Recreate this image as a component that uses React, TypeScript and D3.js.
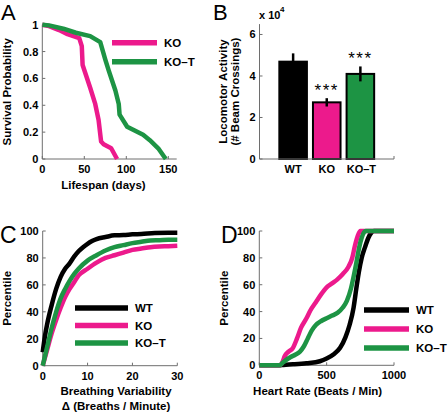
import React from "react";
import * as d3 from "d3";

// ---------- Panel A: survival ----------
const koDays = [0, 8, 20, 30, 44, 47, 48, 57, 63, 67, 70, 73, 82, 89];
const koSurv = [1, 0.99, 0.96, 0.93, 0.9, 0.84, 0.7, 0.53, 0.41, 0.29, 0.13, 0.11, 0.08, 0];
const kotDays = [0, 8, 25, 40, 57, 69, 75, 79, 87, 91, 92, 101, 120, 128, 138, 147];
const kotSurv = [1, 0.995, 0.97, 0.94, 0.915, 0.87, 0.74, 0.66, 0.51, 0.41, 0.33, 0.24, 0.18, 0.14, 0.08, 0];
const aXTicks = [0, 50, 100, 150];
const aYTicks = [0, 0.2, 0.4, 0.6, 0.8, 1];
const aYTickLabels = ["0", "0.2", "0.4", "0.6", "0.8", "1"];

// ---------- Panel B: locomotor activity (x 10^4) ----------
const bGroups = ["WT", "KO", "KO\u2013T"];
const bMeans = [4.69, 2.73, 4.1];
const bErrs = [0.4, 0.2, 0.36];
const bSig = ["", "***", "***"];
const bYTicks = [0, 2, 4, 6];

// ---------- Panel C: breathing variability ----------
const cWtX = [0, 0.5, 1, 2, 3, 4, 5, 6, 7, 8, 9, 10, 11, 12, 14, 16, 18, 20, 22, 25, 28, 30];
const cWtY = [10, 22, 31, 45, 57, 66, 72, 76, 81, 85, 88, 90.5, 92.5, 94, 95.5, 96.8, 97, 97.5, 97.8, 98.5, 98.7, 98.7];
const cKoX = [0, 1, 2, 3, 4, 5, 6, 7, 8, 10, 12, 14, 16, 18, 20, 22, 24, 26, 28, 30];
const cKoY = [0, 12, 24, 34, 43, 51, 57, 62, 67, 72, 76.5, 80, 82, 84, 86, 87, 88, 88.5, 88.7, 89];
const cKotX = [0, 1, 2, 3, 4, 5, 6, 7, 8, 10, 12, 14, 16, 18, 20, 22, 24, 26, 28, 30];
const cKotY = [0, 14, 28, 40, 50, 57, 63, 68, 72, 78, 82, 85.5, 88, 89.5, 91, 92, 93, 93.2, 93.5, 93.5];
const cXTicks = [0, 10, 20, 30];
const pctTicks = [0, 20, 40, 60, 80, 100];

// ---------- Panel D: heart rate ----------
const dWtX = [0, 150, 180, 250, 350, 450, 500, 550, 600, 640, 670, 700, 720, 740, 760, 785, 810, 830, 850, 1000];
const dWtY = [0, 0, 0.3, 0.7, 1.5, 3, 5, 8, 13, 21, 30, 43, 57, 70, 80, 88, 95, 98.5, 100, 100];
const dKoX = [0, 150, 170, 190, 215, 250, 280, 310, 350, 380, 420, 460, 500, 540, 580, 620, 660, 690, 710, 730, 750, 1000];
const dKoY = [0, 0, 2, 7, 10, 13, 20, 28, 35, 41, 47, 53, 58, 61, 64, 68, 73, 80, 89, 96, 100, 100];
const dKotX = [0, 150, 175, 200, 230, 270, 300, 330, 360, 390, 420, 460, 500, 540, 580, 620, 650, 680, 700, 720, 740, 760, 790, 1000];
const dKotY = [0, 0, 2, 4, 6, 8, 10, 14, 20, 26, 30, 33, 35, 37, 39, 43, 48, 57, 66, 76, 87, 95, 100, 100];
const dXTicks = [0, 500, 1000];

const legendNames3 = ["WT", "KO", "KO\u2013T"];

const BLACK = "#000000";
const PINK = "#ec1a8c";
const GREEN = "#1d9444";
const AXIS = "#6e6e6e";
const FONT = "'Liberation Sans', Arial, Helvetica, sans-serif";

type Pt = [number, number];
const zip = (xs: number[], ys: number[]): Pt[] => xs.map((x, i) => [x, ys[i]]);

function Axes({ x, y, xTicks, yTicks, yLabels, xLabels }: any) {
  const [x0, x1] = x.range();
  const [y0, y1] = y.range();
  return (
    <g>
      <line x1={x0} x2={x1} y1={y0} y2={y0} stroke={AXIS} strokeWidth={1} />
      <line x1={x0} x2={x0} y1={y0} y2={y1} stroke={AXIS} strokeWidth={1} />
      {xTicks.map((t: number, i: number) => (
        <g key={"xt" + i}>
          <line x1={x(t)} x2={x(t)} y1={y0} y2={y0 - 3} stroke={AXIS} />
          <text x={x(t)} y={y0 + 14} textAnchor="middle" fontSize={11} fontWeight="bold">
            {xLabels ? xLabels[i] : String(t)}
          </text>
        </g>
      ))}
      {yTicks.map((t: number, i: number) => (
        <g key={"yt" + i}>
          <line x1={x0} x2={x0 + 3} y1={y(t)} y2={y(t)} stroke={AXIS} />
          <text x={x0 - 4} y={y(t) + 4} textAnchor="end" fontSize={11} fontWeight="bold">
            {yLabels ? yLabels[i] : String(t)}
          </text>
        </g>
      ))}
    </g>
  );
}

function Legend({ x1, x2, ys, colors, names }: any) {
  return (
    <g>
      {names.map((n: string, i: number) => (
        <g key={n}>
          <line x1={x1} x2={x2} y1={ys[i]} y2={ys[i]} stroke={colors[i]} strokeWidth={5.5} />
          <text x={x2 + 7} y={ys[i] + 4} fontSize={11.5} fontWeight="bold">{n}</text>
        </g>
      ))}
    </g>
  );
}

export default function App() {
  // Panel A
  const ax = d3.scaleLinear().domain([0, 160]).range([42.3, 176.7]);
  const ay = d3.scaleLinear().domain([0, 1]).range([159, 24.7]);
  const aLine = d3.line<Pt>().x((d) => ax(d[0])).y((d) => ay(d[1]));

  // Panel B
  const bx = d3.scaleLinear().domain([0, 4]).range([259.5, 394]);
  const by = d3.scaleLinear().domain([0, 6.5]).range([159, 24.1]);
  const bw = (bx(0.82) - bx(0));

  // Panel C
  const cx = d3.scaleLinear().domain([0, 30]).range([42.7, 177.3]);
  const cy = d3.scaleLinear().domain([0, 100]).range([365.7, 231]);
  const cLine = d3.line<Pt>().x((d) => cx(d[0])).y((d) => cy(d[1])).curve(d3.curveMonotoneX);

  // Panel D
  const dx = d3.scaleLinear().domain([0, 1000]).range([259.3, 394]);
  const dy = d3.scaleLinear().domain([0, 100]).range([365.3, 231]);
  const dLine = d3.line<Pt>().x((d) => dx(d[0])).y((d) => dy(d[1])).curve(d3.curveMonotoneX);

  const curveProps = { fill: "none", strokeWidth: 4.5, strokeLinejoin: "round" as const, strokeLinecap: "butt" as const };

  return (
    <svg width={448} height={412} style={{ position: "absolute", left: 0, top: 0, background: "#fff" }} fontFamily={FONT}>
      <rect width={448} height={412} fill="#fff" />
      {/* Panel letters */}
      <text x={1} y={20} fontSize={22}>A</text>
      <text x={213} y={20} fontSize={22}>B</text>
      <text x={0} y={243} fontSize={23}>C</text>
      <text x={221} y={243} fontSize={23}>D</text>

      {/* ---------- A ---------- */}
      <Axes x={ax} y={ay} xTicks={aXTicks} yTicks={aYTicks} yLabels={aYTickLabels} />
      <path d={aLine(zip(koDays, koSurv)) || ""} stroke={PINK} {...curveProps} />
      <path d={aLine(zip(kotDays, kotSurv)) || ""} stroke={GREEN} {...curveProps} />
      <Legend x1={112} x2={157} ys={[42.7, 61.7]} colors={[PINK, GREEN]} names={["KO", "KO\u2013T"]} />
      <text x={ax(80) - 6} y={189} textAnchor="middle" fontSize={11.5} fontWeight="bold">Lifespan (days)</text>
      <text transform={`translate(11,${(ay(0) + ay(1)) / 2}) rotate(-90)`} textAnchor="middle" fontSize={11.5} fontWeight="bold">
        Survival Probability
      </text>

      {/* ---------- B ---------- */}
      {bMeans.map((m, i) => {
        const cxp = bx(i + 1);
        const colors = [BLACK, PINK, GREEN];
        const top = by(m);
        return (
          <g key={"bar" + i}>
            <rect x={cxp - bw / 2} y={top} width={bw} height={by(0) - top} fill={colors[i]} stroke={BLACK} strokeWidth={2} />
            <line x1={cxp} x2={cxp} y1={by(m + bErrs[i])} y2={by(m - bErrs[i])} stroke={BLACK} strokeWidth={2.5} />
            {bSig[i] && (
              <text x={cxp} y={by(m + bErrs[i]) - 2} textAnchor="middle" fontSize={17} letterSpacing={1.5}>{bSig[i]}</text>
            )}
          </g>
        );
      })}
      <line x1={bx(0)} x2={bx(4)} y1={by(0)} y2={by(0)} stroke={AXIS} />
      <line x1={bx(4)} x2={bx(4)} y1={by(0)} y2={by(0) - 3} stroke={AXIS} />
      <line x1={bx(0)} x2={bx(0)} y1={by(0)} y2={by(6.5)} stroke={AXIS} />
      {bYTicks.map((t) => (
        <g key={"by" + t}>
          <line x1={bx(0)} x2={bx(0) + 3} y1={by(t)} y2={by(t)} stroke={AXIS} />
          <text x={bx(0) - 4} y={by(t) + 4} textAnchor="end" fontSize={11} fontWeight="bold">{String(t)}</text>
        </g>
      ))}
      {bGroups.map((g, i) => (
        <text key={g} x={bx(i + 1) + (i === 2 ? 1 : 0)} y={by(0) + 14} textAnchor="middle" fontSize={11} fontWeight="bold">{g}</text>
      ))}
      <text x={259} y={19} fontSize={11} fontWeight="bold">x 10</text>
      <text x={280} y={12} fontSize={8} fontWeight="bold">4</text>
      <text transform={`translate(226.5,${(by(0) + by(6.5)) / 2}) rotate(-90)`} textAnchor="middle" fontSize={11.5} fontWeight="bold">
        Locomotor Activity
      </text>
      <text transform={`translate(239,${(by(0) + by(6.5)) / 2}) rotate(-90)`} textAnchor="middle" fontSize={11.5} fontWeight="bold">
        (# Beam Crossings)
      </text>

      {/* ---------- C ---------- */}
      <Axes x={cx} y={cy} xTicks={cXTicks} yTicks={pctTicks} />
      <path d={cLine(zip(cWtX, cWtY)) || ""} stroke={BLACK} {...curveProps} />
      <path d={cLine(zip(cKoX, cKoY)) || ""} stroke={PINK} {...curveProps} />
      <path d={cLine(zip(cKotX, cKotY)) || ""} stroke={GREEN} {...curveProps} />
      <Legend x1={75} x2={128} ys={[308, 325.5, 343]} colors={[BLACK, PINK, GREEN]} names={legendNames3} />
      <text x={cx(15) + 6} y={395} textAnchor="middle" fontSize={11.5} fontWeight="bold">Breathing Variability</text>
      <text x={cx(15) + 6} y={409.5} textAnchor="middle" fontSize={11.5} fontWeight="bold">{"\u0394 (Breaths / Minute)"}</text>
      <text transform={`translate(11,${(cy(0) + cy(100)) / 2}) rotate(-90)`} textAnchor="middle" fontSize={11.5} fontWeight="bold">
        Percentile
      </text>

      {/* ---------- D ---------- */}
      <Axes x={dx} y={dy} xTicks={dXTicks} yTicks={pctTicks} />
      <path d={dLine(zip(dWtX, dWtY)) || ""} stroke={BLACK} {...curveProps} />
      <path d={dLine(zip(dKoX, dKoY)) || ""} stroke={PINK} {...curveProps} />
      <path d={dLine(zip(dKotX, dKotY)) || ""} stroke={GREEN} {...curveProps} />
      <Legend x1={364} x2={409} ys={[310, 329, 348]} colors={[BLACK, PINK, GREEN]} names={legendNames3} />
      <text x={dx(500) - 9} y={395} textAnchor="middle" fontSize={11.5} fontWeight="bold">Heart Rate (Beats / Min)</text>
      <text transform={`translate(228,${(dy(0) + dy(100)) / 2}) rotate(-90)`} textAnchor="middle" fontSize={11.5} fontWeight="bold">
        Percentile
      </text>
    </svg>
  );
}
